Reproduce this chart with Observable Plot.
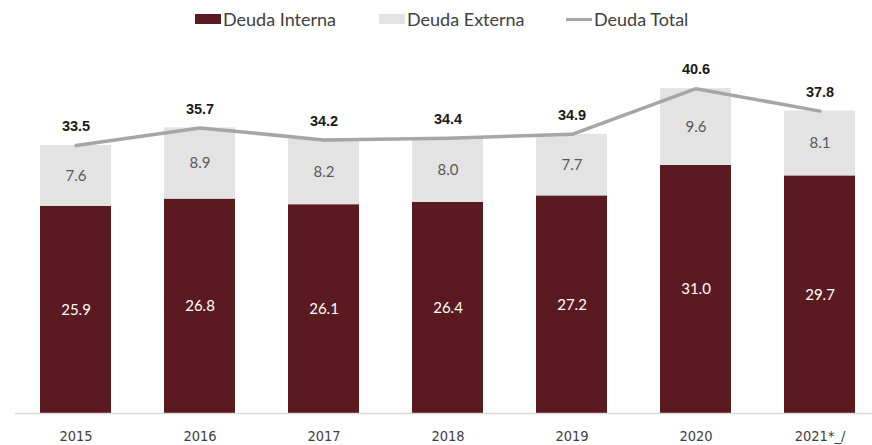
<!DOCTYPE html>
<html>
<head>
<meta charset="utf-8">
<script src="https://cdn.jsdelivr.net/npm/d3@7"></script>
<script src="https://cdn.jsdelivr.net/npm/@observablehq/plot@0.6"></script>
<style>
  html, body { margin: 0; padding: 0; background: #fff; }
  #wrap { width: 872px; }
  #legend { height: 40px; position: relative; font-family: "Lato", "DejaVu Sans", sans-serif; font-size: 18px; color: #404040; }
  .item { position: absolute; top: 8px; display: flex; align-items: center; }
  .sw { width: 26px; height: 10px; margin-right: 2px; }
  .ln { width: 26px; height: 3px; margin-right: 2px; }
</style>
</head>
<body>
<div id="wrap">
  <div id="legend">
    <div class="item" style="left:195px"><div class="sw" style="background:#5a1a1f"></div>Deuda Interna</div>
    <div class="item" style="left:379px"><div class="sw" style="background:#e3e3e3"></div>Deuda Externa</div>
    <div class="item" style="left:566px"><div class="ln" style="background:#a6a6a6"></div>Deuda Total</div>
  </div>
  <div id="chart"></div>
</div>
<script>
const years = ["2015", "2016", "2017", "2018", "2019", "2020", "2021*_/"];
const interna = [25.9, 26.8, 26.1, 26.4, 27.2, 31.0, 29.7];
const externa = [7.6, 8.9, 8.2, 8.0, 7.7, 9.6, 8.1];
const total = [33.5, 35.7, 34.2, 34.4, 34.9, 40.6, 37.8];

const C_INT = "#5a1a1f", C_EXT = "#e3e3e3", C_LINE = "#a6a6a6";

const rows = [];
years.forEach((y, i) => {
  rows.push({year: y, serie: "Deuda Interna", value: interna[i], y1: 0, y2: interna[i]});
  rows.push({year: y, serie: "Deuda Externa", value: externa[i], y1: interna[i], y2: interna[i] + externa[i]});
});
const totals = years.map((y, i) => ({year: y, total: total[i]}));

const chart = Plot.plot({
  width: 872,
  height: 405,
  marginLeft: 15,
  marginRight: 0,
  marginTop: 13,
  marginBottom: 32,
  x: {domain: years, paddingInner: 0.43, paddingOuter: 0.169, align: 0.595, label: null},
  y: {domain: [0, 45], axis: null},
  marks: [
    Plot.barY(rows, {x: "year", y1: "y1", y2: "y2", fill: d => d.serie === "Deuda Interna" ? C_INT : C_EXT}),
    Plot.ruleY([0], {stroke: "#d9d9d9", strokeWidth: 1.5}),
    Plot.text(rows, {x: "year", y: d => (d.y1 + d.y2) / 2, text: d => d.value.toFixed(1),
      fill: d => d.serie === "Deuda Interna" ? "#ffffff" : "#595959",
      fontSize: 15, fontFamily: "Lato, 'DejaVu Sans', sans-serif"}),
    Plot.line(totals, {x: "year", y: "total", stroke: C_LINE, strokeWidth: 3.5}),
    Plot.text(totals, {x: "year", y: "total", text: d => d.total.toFixed(1), dy: -19,
      fontWeight: "bold", fontSize: 14.5, fill: "#1a1a1a", fontFamily: "'Liberation Sans', Arial, sans-serif"}),
    Plot.axisX({tickSize: 0, tickPadding: 17, fontSize: 14.5, color: "#404040",
      fontFamily: "'Liberation Sans Narrow', 'DejaVu Sans Condensed', sans-serif", label: null})
  ]
});
document.getElementById("chart").appendChild(chart);
</script>
</body>
</html>
